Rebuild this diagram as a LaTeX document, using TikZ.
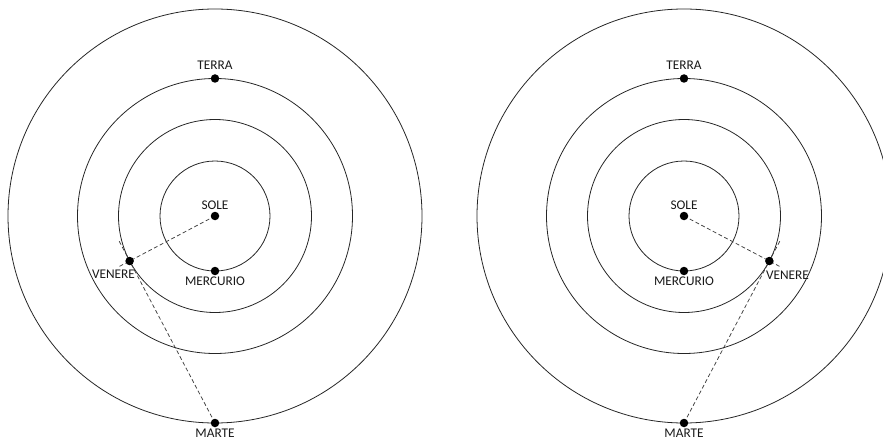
\documentclass[tikz,border=0pt]{standalone}
\usepackage{fontspec}
\setmainfont{Carlito}
\usetikzlibrary{calc,backgrounds}
\begin{document}
\begin{tikzpicture}[x=1pt,y=1pt,
  orbit/.style={draw=black!85, line width=0.8pt},
  planet/.style={circle, fill=black, inner sep=0pt, minimum size=8.5pt},
  sight/.style={draw=black!75, dash pattern=on 4pt off 2.5pt, line width=0.75pt},
  lbl/.style={font=\fontsize{13.3}{15}\selectfont, text=black!90, inner sep=0pt}]
\useasboundingbox (0,0) rectangle (883,437);
% ---------- left system ----------
\coordinate (cL) at (215,221);
\node[planet] (sunL) at (cL) {};
\node[planet] (terraL) at ($(cL)+(0,137.5)$) {};
\node[planet] (mercL) at ($(cL)+(0,-55)$) {};
\node[planet] (venL) at ($(cL)+(207.8:96.5)$) {};
\node[planet] (martL) at ($(cL)+(0,-207)$) {};
\coordinate (extSL) at ($(sunL.center)!1.12!(venL.center)$);
\coordinate (extML) at ($(martL.center)!1.125!(venL.center)$);
% ---------- right system ----------
\coordinate (cR) at (684,221);
\node[planet] (sunR) at (cR) {};
\node[planet] (terraR) at ($(cR)+(0,137.5)$) {};
\node[planet] (mercR) at ($(cR)+(0,-55)$) {};
\node[planet] (venR) at ($(cR)+(332.2:96.5)$) {};
\node[planet] (martR) at ($(cR)+(0,-207)$) {};
\coordinate (extSR) at ($(sunR.center)!1.12!(venR.center)$);
\coordinate (extMR) at ($(martR.center)!1.125!(venR.center)$);
\begin{pgfonlayer}{background}
  \foreach \c in {cL,cR}{
    \foreach \r in {55,96.5,137.5,207}{
      \draw[orbit] (\c) circle[radius=\r];
    }
  }
  \draw[sight] (sunL.center) -- (extSL);
  \draw[sight] (martL.center) -- (extML);
  \draw[sight] (sunR.center) -- (extSR);
  \draw[sight] (martR.center) -- (extMR);
\end{pgfonlayer}
% ---------- labels ----------
\node[lbl, anchor=base] (lTL) at ($(terraL)+(0,8.5)$) {TERRA};
\node[lbl, anchor=base] (lSL) at ($(sunL)+(0,7)$) {SOLE};
\node[lbl, anchor=base] (lML) at ($(mercL)+(0,-14)$) {MERCURIO};
\node[lbl, anchor=base east] (lVL) at ($(venL)+(5.5,-17.5)$) {VENERE};
\node[lbl, anchor=base] (lAL) at ($(martL)+(0,-14)$) {MARTE};
\node[lbl, anchor=base] (lTR) at ($(terraR)+(0,8.5)$) {TERRA};
\node[lbl, anchor=base] (lSR) at ($(sunR)+(0,7)$) {SOLE};
\node[lbl, anchor=base] (lMR) at ($(mercR)+(0,-14)$) {MERCURIO};
\node[lbl, anchor=base west] (lVR) at ($(venR)+(-3.5,-18)$) {VENERE};
\node[lbl, anchor=base] (lAR) at ($(martR)+(0,-14)$) {MARTE};
\end{tikzpicture}
\end{document}
